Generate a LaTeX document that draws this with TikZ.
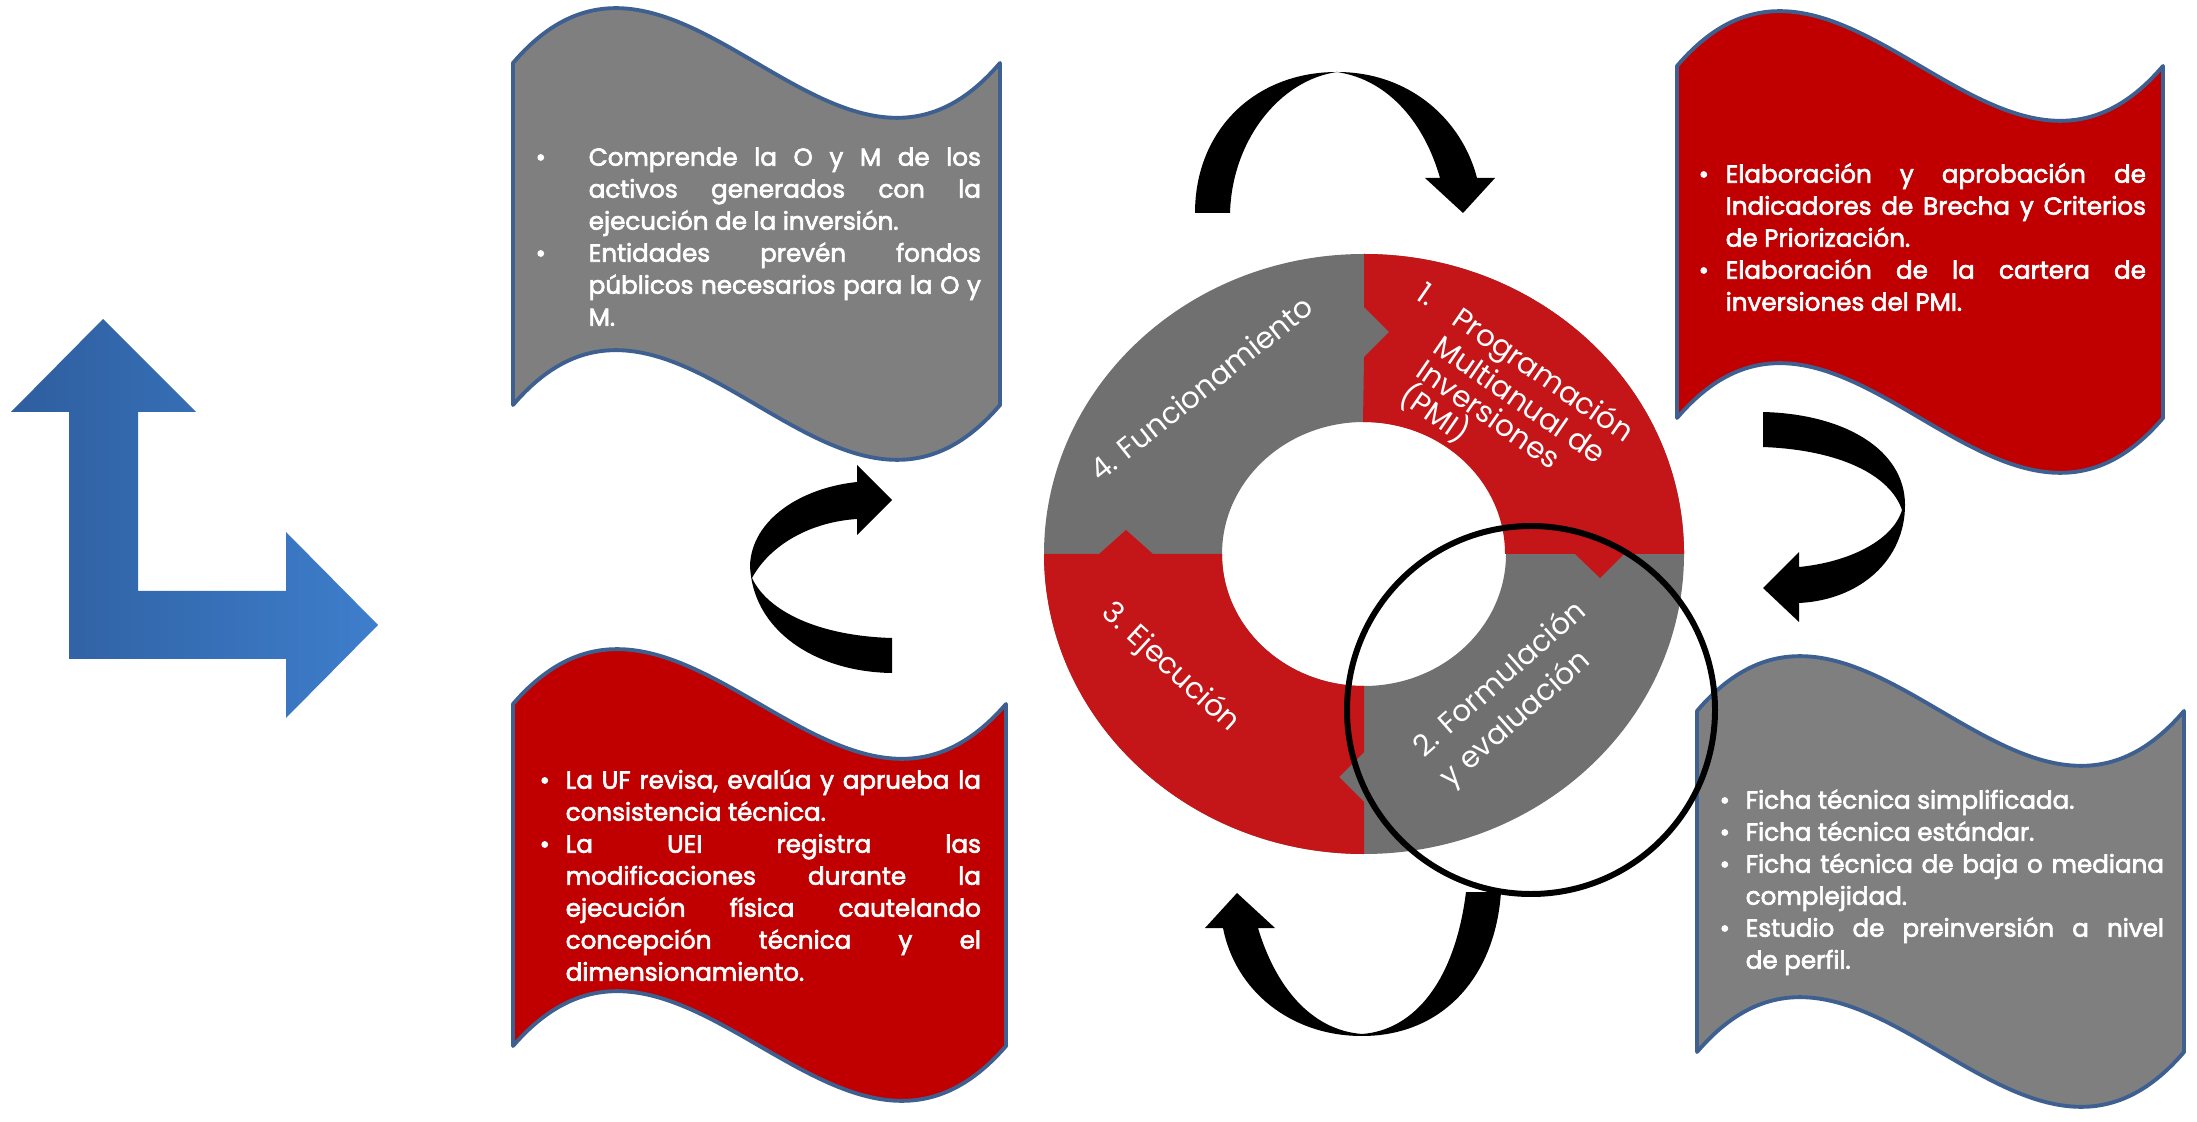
\documentclass[tikz,border=0pt]{standalone}
\usepackage{fontspec}
\setmainfont{Poppins}
\newfontfamily\boxfont{Poppins}[FakeBold=2.6]
\usetikzlibrary{calc}

\definecolor{boxgray}{RGB}{127,127,127}
\definecolor{boxred}{RGB}{192,0,0}
\definecolor{boxline}{RGB}{62,96,145}
\definecolor{ringred}{RGB}{196,21,24}
\definecolor{ringgray}{RGB}{112,112,112}
\definecolor{arrowdark}{RGB}{46,94,158}
\definecolor{arrowlight}{RGB}{62,126,204}

\hyphenpenalty=10000
\exhyphenpenalty=10000
\tolerance=10000
\hbadness=10000

\newcommand\bul[1]{\par\noindent\hangindent=#1\hangafter=1\makebox[#1][l]{\textbullet}\ignorespaces}

\newcommand\wavebox[5]{% fill, left, right, top, bottom
	\draw[banner, fill=#1] (#2,#4)
		.. controls ({#2+(#3-#2)/3},{#4-190}) and ({#2+2*(#3-#2)/3},{#4+190}) .. (#3,#4)
		-- (#3,#5)
		.. controls ({#2+2*(#3-#2)/3},{#5+190}) and ({#2+(#3-#2)/3},{#5-190}) .. (#2,#5)
		-- cycle;}

\tikzset{
	banner/.style={draw=boxline, line width=1.1pt, line join=round},
	boxtext/.style={anchor=north west, inner sep=0pt, text=white, align=justify, font=\boxfont\fontsize{7.0}{9.1}\selectfont},
	ringtext/.style={inner sep=0pt, text=white, font=\fontsize{8.4}{8.5}\selectfont},
}

\begin{document}
\begin{tikzpicture}[x=0.01cm, y=-0.01cm]
	\fill[white] (0,0) rectangle (2197,1122);
	\useasboundingbox (0,0) rectangle (2197,1122);

	% blue corner arrow
	\shade[left color=arrowdark, right color=arrowlight] (103,319) -- (196,412) -- (138,412) -- (138,591) -- (286,591) -- (286,532) -- (378,625) -- (286,718) -- (286,659) -- (69,659) -- (69,412) -- (11,412) -- cycle;

	% banners
	\wavebox{boxgray}{513}{1000}{63}{405}
	\wavebox{boxred}{1677}{2163}{66}{418}
	\wavebox{boxred}{513}{1006}{704}{1046}
	\wavebox{boxgray}{1697}{2184}{711}{1052}

	\node[boxtext, text width=4.45cm] (oym) at (535,133) {%
		\bul{0.53cm}\rule{0pt}{9pt}Comprende la O y M de los\linebreak activos generados con la\linebreak ejecución de la inversión.
		\bul{0.53cm}Entidades prevén fondos\linebreak públicos necesarios para la O y\linebreak M.\par};
	\node[boxtext, text width=4.47cm] (pmi) at (1698,150) {%
		\bul{0.27cm}\rule{0pt}{9pt}Elaboración y aprobación de\linebreak Indicadores de Brecha y Criterios\linebreak de Priorización.
		\bul{0.27cm}Elaboración de la cartera de\linebreak inversiones del PMI.\par};
	\node[boxtext, text width=4.41cm] (ejec) at (539,756) {%
		\bul{0.26cm}\rule{0pt}{9pt}La UF revisa, evalúa y aprueba la\linebreak consistencia técnica.
		\bul{0.26cm}La UEI registra las\linebreak modificaciones durante la\linebreak ejecución física cautelando\linebreak concepción técnica y el\linebreak dimensionamiento.\par};
	\node[boxtext, text width=4.44cm] (fichas) at (1719,776) {%
		\bul{0.26cm}\rule{0pt}{9pt}Ficha técnica simplificada.
		\bul{0.26cm}Ficha técnica estándar.
		\bul{0.26cm}Ficha técnica de baja o mediana\linebreak complejidad.
		\bul{0.26cm}Estudio de preinversión a nivel\linebreak de perfil.\par};

	% cycle ring
	\fill[ringgray, even odd rule] (1364,554) ellipse [x radius=320, y radius=300] (1364,554) ellipse [x radius=142, y radius=132];
	\fill[ringred] (1364,254) arc[start angle=-90, end angle=0, x radius=320, y radius=300] -- (1624,554) -- (1600,578) -- (1575,554) -- (1505,554) arc[start angle=0, end angle=-90, x radius=142, y radius=132] -- (1364,357) -- (1389,332) -- (1364,307) -- cycle;
	\fill[ringred] (1364,854) arc[start angle=90, end angle=180, x radius=320, y radius=300] -- (1099,554) -- (1126,530) -- (1153,554) -- (1222,554) arc[start angle=180, end angle=90, x radius=142, y radius=132] -- (1364,752) -- (1339,777) -- (1364,802) -- cycle;

	\node[ringtext, rotate=-34.6, align=left] (fase1) at (1498,402) {\makebox[12.5pt][l]{1.}Programación\\\hspace*{12.5pt}Multianual de\\\hspace*{12.5pt}Inversiones\\\hspace*{12.5pt}(PMI)};
	\node[ringtext, rotate=41.5, align=left, font=\fontsize{8.4}{11.4}\selectfont] (fase2) at (1514,695) {2. Formulación\\y evaluación};
	\node[ringtext, rotate=-42.4] (fase3) at (1170,668) {3. Ejecución};
	\node[ringtext, rotate=38.6] (fase4) at (1201,388) {4. Funcionamiento};

	% curved arrows
	\fill (1195,213) .. controls (1195,130) and (1255,72) .. (1337,72)
		.. controls (1410,72) and (1462,120) .. (1477,178) -- (1495,178) -- (1463,213) -- (1425,178) -- (1440,178)
		.. controls (1425,125) and (1390,80) .. (1337,72)
		.. controls (1280,80) and (1232,140) .. (1230,213) -- cycle;
	\fill (1763,412) .. controls (1845,414) and (1905,450) .. (1905,505)
		.. controls (1905,560) and (1860,600) .. (1799,603) -- (1799,622) -- (1763,588) -- (1799,552) -- (1799,567)
		.. controls (1850,562) and (1893,540) .. (1902,510)
		.. controls (1890,475) and (1840,450) .. (1763,447) -- cycle;
	\fill (857,482) .. controls (800,488) and (752,520) .. (750,565)
		.. controls (752,630) and (815,672) .. (892,673) -- (892,638)
		.. controls (820,636) and (768,612) .. (752,578)
		.. controls (770,545) and (810,522) .. (857,519) -- (857,535) -- (892,500) -- (857,465) -- cycle;
	\fill (1237,893) -- (1275,928) -- (1258,928)
		.. controls (1275,985) and (1310,1030) .. (1362,1034)
		.. controls (1415,1030) and (1455,980) .. (1466,892) -- (1501,892)
		.. controls (1495,980) and (1440,1036) .. (1362,1036)
		.. controls (1290,1036) and (1235,990) .. (1223,928) -- (1205,928) -- cycle;

	\draw[line width=1.7pt] (1531,710) circle [radius=184];
\end{tikzpicture}
\end{document}
